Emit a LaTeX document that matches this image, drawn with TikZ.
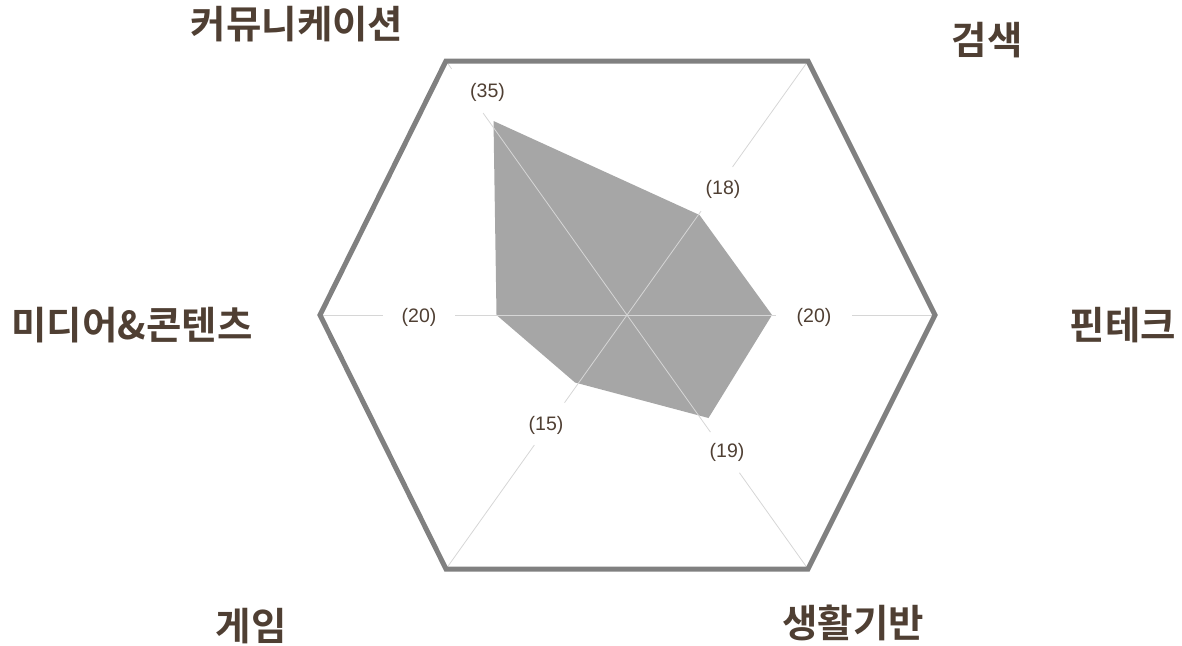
\documentclass[tikz,border=0pt]{standalone}
\usepackage{fontspec}
\setmainfont{Liberation Sans}
\newfontfamily\krfont{Noto Sans CJK KR}[BoldFont={Noto Sans CJK KR Bold}]
\usetikzlibrary{calc}
\definecolor{txtbrown}{HTML}{4F3F33}
\definecolor{hexgray}{HTML}{808080}
\definecolor{axisgray}{HTML}{D6D6D6}
\definecolor{areagray}{HTML}{A6A6A6}
\tikzset{
  hexline/.style={draw=hexgray, line width=5pt, line join=miter},
  axisline/.style={draw=axisgray, line width=0.8pt},
  area/.style={fill=areagray, draw=none},
  catlabel/.style={text=txtbrown, font=\krfont\bfseries\fontsize{38.5}{44}\selectfont, inner sep=0pt},
  numlabel/.style={text=txtbrown, font=\fontsize{19.5}{22}\selectfont, inner sep=0pt}
}
\begin{document}
\begin{tikzpicture}[x=1pt,y=-1pt]
\useasboundingbox (0,0) rectangle (1182,645);
% centre and vertices
\coordinate (O) at (627,315);
\coordinate (V1) at (446,61);
\coordinate (V2) at (808,61);
\coordinate (V3) at (935,315);
\coordinate (V4) at (808,569);
\coordinate (V5) at (446,569);
\coordinate (V6) at (320,315);
% data polygon
\coordinate (P1) at (493.5,121);
\coordinate (P2) at (699.5,215);
\coordinate (P3) at (772,315);
\coordinate (P4) at (708.5,418);
\coordinate (P5) at (575,382.5);
\coordinate (P6) at (496.5,315);
\fill[area] (P1) -- (P2) -- (P3) -- (P4) -- (P5) -- (P6) -- cycle;
% axes with gaps around value labels
\draw[axisline] (O) -- ($(O)!0.795!(V1)$);
\draw[axisline] ($(O)!0.969!(V1)$) -- (V1);
\draw[axisline] (O) -- ($(O)!0.409!(V2)$);
\draw[axisline] ($(O)!0.583!(V2)$) -- (V2);
\draw[axisline] (O) -- ($(O)!0.483!(V3)$);
\draw[axisline] ($(O)!0.731!(V3)$) -- (V3);
\draw[axisline] (O) -- ($(O)!0.461!(V4)$);
\draw[axisline] ($(O)!0.621!(V4)$) -- (V4);
\draw[axisline] (O) -- ($(O)!0.345!(V5)$);
\draw[axisline] ($(O)!0.512!(V5)$) -- (V5);
\draw[axisline] (O) -- ($(O)!0.560!(V6)$);
\draw[axisline] ($(O)!0.795!(V6)$) -- (V6);
% hexagon frame
\draw[hexline] (V1) -- (V2) -- (V3) -- (V4) -- (V5) -- (V6) -- cycle;
% value labels
\node[numlabel] (n1) at (487.5,92) {(35)};
\node[numlabel] (n2) at (723,189) {(18)};
\node[numlabel] (n3) at (814,317) {(20)};
\node[numlabel] (n4) at (727,452) {(19)};
\node[numlabel] (n5) at (546,425) {(15)};
\node[numlabel] (n6) at (419,317) {(20)};
% category labels
\node[catlabel] (c1) at (297,24) {커뮤니케이션};
\node[catlabel] (c2) at (987,40.5) {검색};
\node[catlabel] (c3) at (1123,325.5) {핀테크};
\node[catlabel] (c4) at (132,325.5) {미디어\&콘텐츠};
\node[catlabel] (c5) at (251,626.5) {게임};
\node[catlabel] (c6) at (853,623) {생활기반};
\end{tikzpicture}
\end{document}
